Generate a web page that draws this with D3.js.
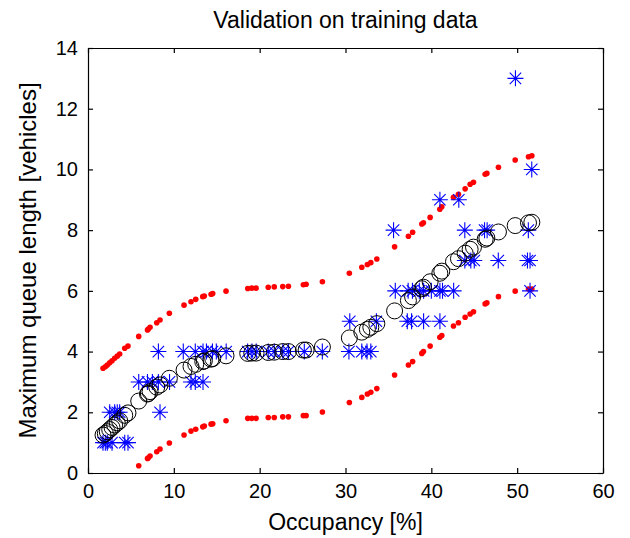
<!DOCTYPE html>
<html>
<head>
<meta charset="utf-8">
<script src="https://cdn.jsdelivr.net/npm/d3@7"></script>
<style>
html, body { margin: 0; padding: 0; background: #fff; }
text { font-family: "Liberation Sans", Arial, Helvetica, sans-serif; fill: #000; }
</style>
</head>
<body>
<svg id="chart" width="630" height="538"></svg>
<script>
// ---- data ----
const occupancy = [1.75,2.02,2.25,2.53,2.80,3.11,3.41,3.69,4.28,4.66,5.91,6.93,7.03,7.23,8.01,8.39,9.48,11.19,12.0,12.55,13.37,13.55,14.34,14.53,16.08,18.61,19.08,19.58,21.0,21.7,22.69,23.35,25.09,25.41,27.31,30.45,31.9,32.55,32.95,33.65,35.72,37.33,37.82,38.89,39.08,39.86,40.99,41.22,42.58,43.16,43.94,44.52,44.91,46.27,46.47,47.82,49.77,51.32,51.71];
const predicted = [1.25,1.30,1.36,1.43,1.50,1.58,1.65,1.72,1.90,1.98,2.37,2.60,2.62,2.68,2.83,2.90,3.12,3.39,3.51,3.58,3.67,3.69,3.75,3.77,3.86,3.94,3.95,3.95,3.97,3.98,4.00,4.00,4.05,4.05,4.15,4.45,4.64,4.73,4.80,4.92,5.34,5.68,5.80,6.07,6.12,6.30,6.58,6.65,6.96,7.06,7.24,7.37,7.44,7.70,7.74,7.94,8.15,8.24,8.26];
const upperBound = [3.45,3.50,3.56,3.63,3.70,3.78,3.85,3.92,4.11,4.18,4.50,4.71,4.74,4.80,4.95,5.04,5.26,5.53,5.64,5.72,5.81,5.83,5.89,5.91,5.99,6.08,6.09,6.09,6.12,6.13,6.14,6.15,6.20,6.22,6.30,6.58,6.78,6.87,6.93,7.05,7.45,7.80,7.93,8.20,8.24,8.42,8.69,8.77,9.08,9.18,9.36,9.51,9.58,9.84,9.87,10.07,10.31,10.42,10.45];
const lowerBound = [null,null,null,null,null,null,null,null,null,null,0.24,0.48,0.50,0.56,0.70,0.79,0.99,1.25,1.38,1.44,1.52,1.55,1.61,1.62,1.72,1.80,1.80,1.80,1.83,1.83,1.85,1.85,1.89,1.89,2.01,2.32,2.49,2.60,2.66,2.78,3.23,3.56,3.67,3.94,4.00,4.18,4.47,4.53,4.84,4.95,5.13,5.24,5.31,5.57,5.61,5.81,5.99,6.06,6.06];
const obsOccupancy = [1.75,2.02,2.25,2.8,4.28,4.66, 2.53,3.11,3.41,3.69,8.39, 5.91,6.93,7.5,8.2,9.5,12.0,12.5,13.4, 8.2,11.1,12.5,13.4,13.8,14.5,14.95,16.1,18.6,19.1,19.6,21.0,21.7,22.7,23.35,25.2,27.3,30.4,31.9,32.5,32.95, 30.5,33.6,37.2,37.7,39.1,41.0, 35.8,37.3,37.8,38.6,39.1,40.0,41.0,41.3,42.6,51.5, 43.9,44.6,45.0,47.8,51.2,51.5, 35.6,43.9,46.2,46.5,51.3, 41.0,43.2, 51.7, 49.8];
const obsQueue = [1,1,1,1,1,1, 2,2,2,2,2, 3,3,3,3,3,3,3,3, 4,4,4,4,4,4,4,4,4,4,4,4,4,4,4,4,4,4,4,4,4, 5,5,5,5,5,5, 6,6,6,6,6,6,6,6,6,6, 7,7,7,7,7,7, 8,8,8,8,8, 9,9, 10, 13];
const xTicks = [0,10,20,30,40,50,60];
const yTicks = [0,2,4,6,8,10,12,14];
const titleText = "Validation on training data";
const xLabelText = "Occupancy [%]";
const yLabelText = "Maximum queue length [vehicles]";

// ---- layout ----
const L = 88, R = 603, T = 48, B = 473;
const svg = d3.select("#chart");
const x = d3.scaleLinear().domain([0, 60]).range([L, R]);
const y = d3.scaleLinear().domain([0, 14]).range([B, T]);
const tickLen = 5, fsTick = 20, fsLabel = 23;

svg.append("defs").append("clipPath").attr("id", "clip")
  .append("rect").attr("x", L).attr("y", T).attr("width", R - L).attr("height", B - T);

const plot = svg.append("g").attr("clip-path", "url(#clip)");

// red bounds
const bounds = [];
occupancy.forEach((o, i) => {
  bounds.push({x: o, y: upperBound[i]});
  if (lowerBound[i] !== null) bounds.push({x: o, y: lowerBound[i]});
});
plot.selectAll("circle.bnd").data(bounds).enter().append("circle")
  .attr("class", "bnd")
  .attr("cx", d => x(d.x)).attr("cy", d => y(d.y)).attr("r", 2.8)
  .attr("fill", "#ff0000");

// blue asterisks
const s = 8, dd = 5.7;
const starPath = `M${-s},0L${s},0M0,${-s}L0,${s}M${-dd},${-dd}L${dd},${dd}M${-dd},${dd}L${dd},${-dd}`;
plot.selectAll("path.obs").data(obsOccupancy.map((o, i) => ({x: o, y: obsQueue[i]}))).enter()
  .append("path").attr("class", "obs")
  .attr("transform", d => `translate(${x(d.x)},${y(d.y)})`)
  .attr("d", starPath)
  .attr("stroke", "#0000ff").attr("stroke-width", 1.1).attr("fill", "none");

// black circles
plot.selectAll("circle.pred").data(occupancy.map((o, i) => ({x: o, y: predicted[i]}))).enter()
  .append("circle").attr("class", "pred")
  .attr("cx", d => x(d.x)).attr("cy", d => y(d.y)).attr("r", 8)
  .attr("fill", "none").attr("stroke", "#000").attr("stroke-width", 1);

// axes (MATLAB style box with inward ticks)
const axB = svg.append("g").attr("transform", `translate(0,${B})`)
  .call(d3.axisBottom(x).tickValues(xTicks).tickSizeInner(-tickLen).tickSizeOuter(0).tickPadding(11));
const axT = svg.append("g").attr("transform", `translate(0,${T})`)
  .call(d3.axisTop(x).tickValues(xTicks).tickSizeInner(-tickLen).tickSizeOuter(0).tickFormat(""));
const axL = svg.append("g").attr("transform", `translate(${L},0)`)
  .call(d3.axisLeft(y).tickValues(yTicks).tickSizeInner(-tickLen).tickSizeOuter(0).tickPadding(10));
const axR = svg.append("g").attr("transform", `translate(${R},0)`)
  .call(d3.axisRight(y).tickValues(yTicks).tickSizeInner(-tickLen).tickSizeOuter(0).tickFormat(""));
[axB, axT, axL, axR].forEach(a => {
  a.select(".domain").attr("stroke", "#000").attr("stroke-width", 1.2);
  a.selectAll(".tick line").attr("stroke", "#000").attr("stroke-width", 1.2);
  a.selectAll(".tick text").attr("font-size", fsTick).attr("font-family", '"Liberation Sans", Arial, sans-serif').attr("fill", "#000");
});

// title & labels
svg.append("text").attr("x", (L + R) / 2).attr("y", 28).attr("text-anchor", "middle")
  .attr("font-size", fsLabel).text(titleText);
svg.append("text").attr("x", (L + R) / 2).attr("y", 530).attr("text-anchor", "middle")
  .attr("font-size", fsLabel).text(xLabelText);
svg.append("text").attr("transform", `translate(36,${(T + B) / 2}) rotate(-90)`).attr("text-anchor", "middle")
  .attr("font-size", 24).text(yLabelText);
</script>
</body>
</html>
